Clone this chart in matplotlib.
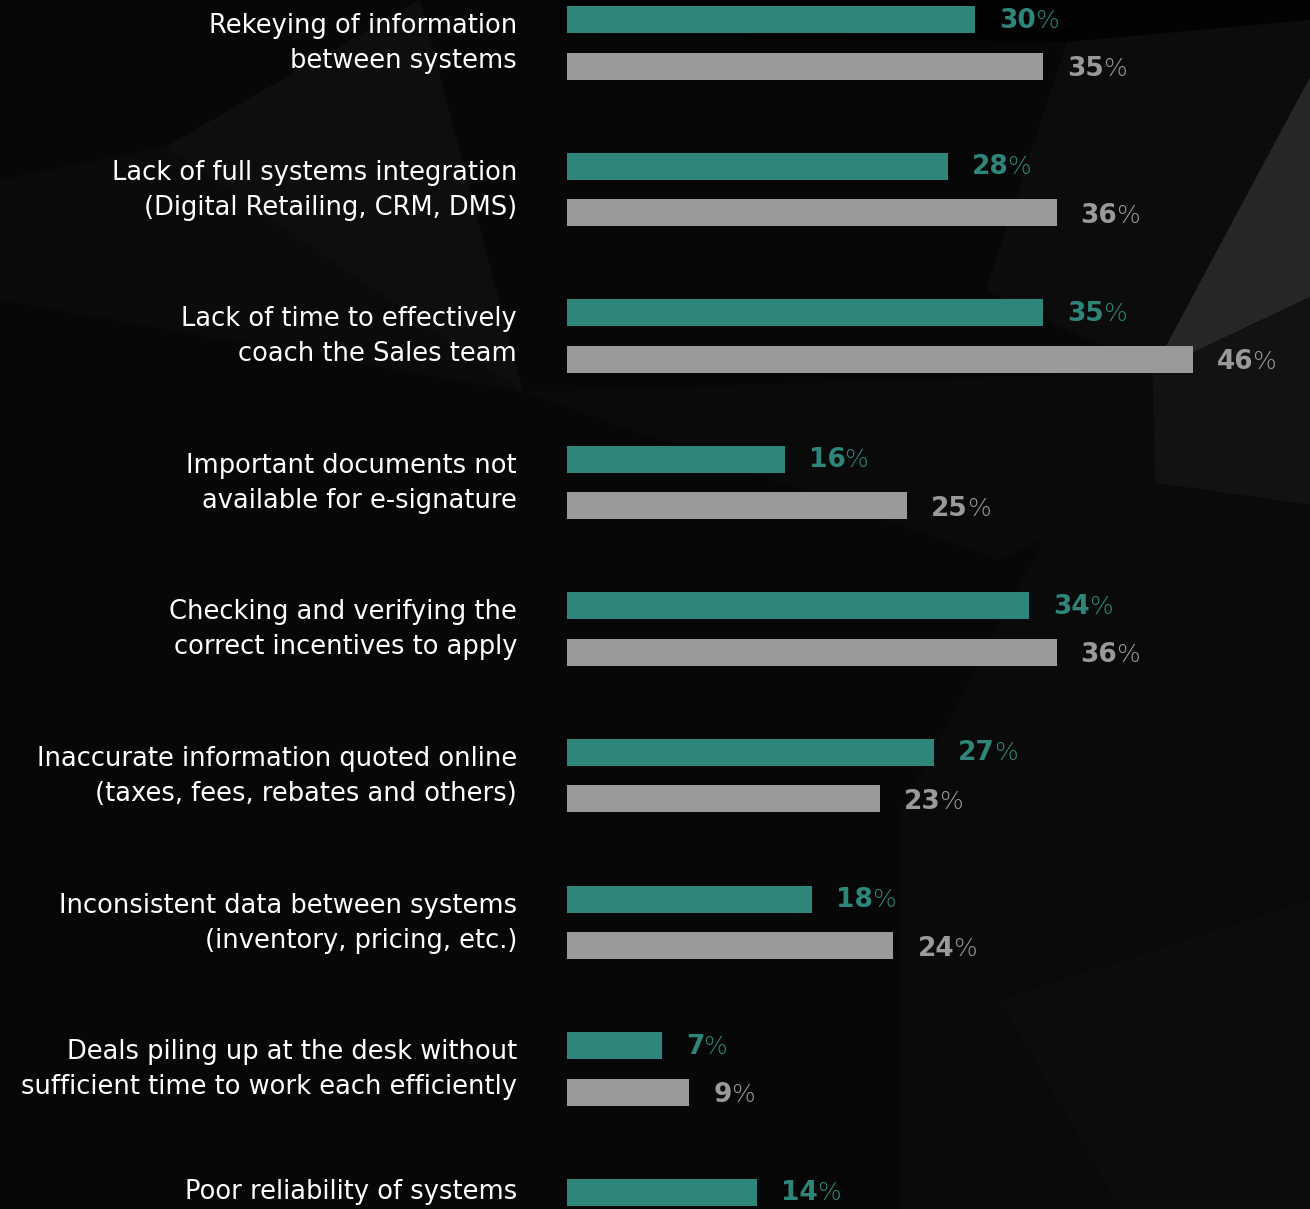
import numpy as np
import matplotlib.pyplot as plt
from matplotlib.patches import Polygon
from matplotlib.transforms import blended_transform_factory

# ---- data -------------------------------------------------------------
categories = [
    ["Rekeying of information", "between systems"],
    ["Lack of full systems integration", "(Digital Retailing, CRM, DMS)"],
    ["Lack of time to effectively", "coach the Sales team"],
    ["Important documents not", "available for e-signature"],
    ["Checking and verifying the", "correct incentives to apply"],
    ["Inaccurate information quoted online", "(taxes, fees, rebates and others)"],
    ["Inconsistent data between systems", "(inventory, pricing, etc.)"],
    ["Deals piling up at the desk without", "sufficient time to work each efficiently"],
    ["Poor reliability of systems"],
]
teal_values = [30, 28, 35, 16, 34, 27, 18, 7, 14]
gray_values = [35, 36, 46, 25, 36, 23, 24, 9, np.nan]

# ---- style ------------------------------------------------------------
TEAL = "#2e867a"
GRAY = "#9a9a9a"
BG = "#070707"
FONT = "DejaVu Sans"

W, H, DPI = 1310, 1209, 100
PITCH = 146.6          # px between groups
BAR_H = 27             # px
HALF_GAP = 23.25       # px from group centre to each bar centre
PX_PER_PCT = 13.6
BAR_X0 = 567
LABEL_X = 517

fig = plt.figure(figsize=(W / DPI, H / DPI), dpi=DPI, facecolor=BG)

# ---- faceted dark backdrop -------------------------------------------
bg = fig.add_axes([0, 0, 1, 1], zorder=0)
bg.set_xlim(0, W)
bg.set_ylim(H, 0)
bg.axis("off")
facets = [
    ([(560, 0), (1310, 0), (1310, 20), (1067, 42), (560, 35)], "#030303"),
    ([(165, 147), (420, 0), (523, 392)], "#0e0e0e"),
    ([(0, 180), (165, 147), (523, 392), (0, 300)], "#0b0b0b"),
    ([(1067, 42), (1310, 20), (1310, 77), (1152, 372), (986, 290)], "#0c0c0c"),
    ([(1310, 77), (1152, 372), (1310, 297)], "#262626"),
    ([(1152, 372), (1310, 297), (1310, 505), (1155, 483)], "#121212"),
    ([(523, 392), (1152, 372), (1155, 483), (1000, 560)], "#0a0a0a"),
    ([(1043, 540), (1155, 483), (1310, 505), (1310, 1209), (900, 1209), (900, 813)], "#0a0a0a"),
    ([(1000, 1000), (1310, 900), (1310, 1209), (1120, 1209)], "#0c0c0c"),
]
for pts, col in facets:
    bg.add_patch(Polygon(pts, closed=True, facecolor=col, edgecolor="none"))

# ---- bars --------------------------------------------------------------
ax = fig.add_axes([BAR_X0 / W, 0, (W - BAR_X0) / W, 1], zorder=1)
ax.patch.set_alpha(0)
ax.axis("off")
ax.set_xlim(0, (W - BAR_X0) / PX_PER_PCT)
top = -(19.5 + HALF_GAP) / PITCH
ax.set_ylim(top + H / PITCH, top)

y = np.arange(len(categories))
off = HALF_GAP / PITCH
bh = BAR_H / PITCH
ax.barh(y - off, teal_values, height=bh, color=TEAL)
ax.barh(y + off, gray_values, height=bh, color=GRAY)


def value_label(v, yy, color, dy):
    if np.isnan(v):
        return
    num = ax.annotate(f"{v:.0f}", xy=(v, yy), xytext=(24, dy),
                      textcoords="offset pixels", ha="left", va="center",
                      fontsize=19, fontweight="bold", color=color,
                      family=FONT, annotation_clip=False)
    ax.annotate("%", xy=(1, 0.5), xycoords=num, xytext=(-1, 0),
                textcoords="offset pixels", ha="left", va="center",
                fontsize=18, fontweight="light", color=color, family=FONT)


for i in range(len(categories)):
    value_label(teal_values[i], y[i] - off, TEAL, -1)
    value_label(gray_values[i], y[i] + off, GRAY, -3)

# ---- category labels ------------------------------------------------------
trans = blended_transform_factory(fig.transFigure, ax.transData)
for i, lines in enumerate(categories):
    if len(lines) == 1:
        positions = [y[i] - off]
    else:
        positions = [y[i] + (-16.75 + 35 * k) / PITCH for k in range(len(lines))]
    for line, yy in zip(lines, positions):
        ax.text(LABEL_X / W, yy, line, transform=trans, ha="right",
                va="center", fontsize=18.5, color="white", family=FONT,
                clip_on=False)

fig.savefig("out.png", dpi=DPI, facecolor=BG)
